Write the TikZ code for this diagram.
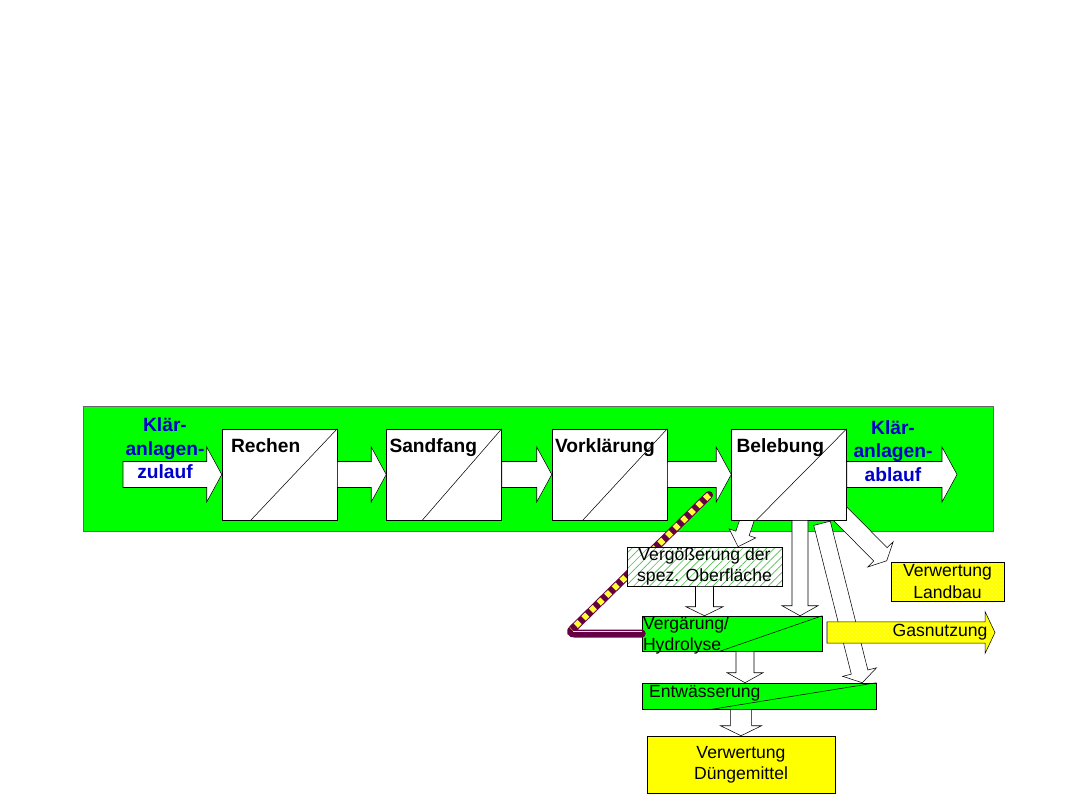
\documentclass[tikz,border=0pt]{standalone}
\usepackage{fontspec}
\setmainfont{Liberation Sans}
\usetikzlibrary{calc}
\usetikzlibrary{patterns}
\usetikzlibrary{patterns.meta}
\pgfdeclarelayer{back}
\pgfdeclarelayer{under}
\pgfsetlayers{back,under,main}
\definecolor{lime}{RGB}{0,255,0}
\definecolor{darkblue}{RGB}{0,0,204}
\definecolor{pipepurple}{RGB}{102,0,68}
\definecolor{pipeyellow}{RGB}{255,255,51}
\definecolor{signyellow}{RGB}{255,255,0}
\definecolor{hatchgreen}{RGB}{80,190,80}
\newcommand{\fatarrow}[6][fatline]{%
	\coordinate (fa) at ($(#3)!#6!(#2)$);
	\draw[#1] ($(#2)!#4!90:(#3)$) -- ($(fa)!#4!-90:(#2)$) -- ($(fa)!#5!-90:(#2)$) -- (#3)
		-- ($(fa)!#5!90:(#2)$) -- ($(fa)!#4!90:(#2)$) -- ($(#2)!#4!-90:(#3)$) -- cycle;}

\begin{document}
\begin{tikzpicture}[x=0.75pt, y=-0.75pt, line width=0.7pt,
	frame/.style={draw=black!60, fill=lime, minimum width=682.5pt, minimum height=93.75pt, inner sep=0},
	stepbox/.style={draw, fill=white, minimum width=86.25pt, minimum height=68.25pt, inner sep=0},
	steplabel/.style={anchor=base west, inner sep=0, font=\fontsize{14.4}{17.6}\selectfont\bfseries},
	flowlabel/.style={align=center, inner sep=0, text=darkblue, font=\fontsize{14.4}{17.6}\selectfont\bfseries},
	greenbox/.style={draw, fill=lime, inner sep=0},
	hatchbox/.style={draw, preaction={fill=white}, pattern={Lines[angle=45, distance=4.2pt, line width=0.5pt]}, pattern color=hatchgreen, inner sep=0},
	yellowbox/.style={draw, fill=signyellow, inner sep=0},
	dotbox/.style={draw, preaction={fill=signyellow}, pattern=dots, pattern color=yellow!30!white, inner sep=0},
	lowlabel/.style={align=center, inner sep=0, font=\fontsize{13.2}{15.8}\selectfont},
	fatline/.style={draw, fill=white},
	gasline/.style={draw, preaction={fill=signyellow}, pattern=dots, pattern color=yellow!30!white}]
		\path[use as bounding box] (0,0) rectangle (1080,800);
		\begin{pgfonlayer}{back}
			\node[frame] (frame) at (538,468.5) {};
		\end{pgfonlayer}
		\node[stepbox] (rechen) at (279.5,474.5) {};
		\node[stepbox] (sandfang) at (444,474.5) {};
		\node[stepbox] (vorkl) at (609.5,474.5) {};
		\node[stepbox] (beleb) at (789,474.5) {};
		\draw ($(rechen.south west)+(29,0)$) -- (rechen.north east);
		\draw ($(sandfang.south west)+(36,0)$) -- (sandfang.north east);
		\draw ($(vorkl.south west)+(31,0)$) -- (vorkl.north east);
		\draw ($(beleb.south west)+(25,0)$) -- (beleb.north east);
		\coordinate (zulauf) at (123,474.5);
		\coordinate (ablauf) at (957,474.5);
		\fatarrow{zulauf}{rechen.west}{9.75pt}{20.6pt}{11.25pt}
		\fatarrow{rechen.east}{sandfang.west}{9.75pt}{20.6pt}{11.25pt}
		\fatarrow{sandfang.east}{vorkl.west}{9.75pt}{20.6pt}{11.25pt}
		\fatarrow{vorkl.east}{beleb.west}{9.75pt}{20.6pt}{11.25pt}
		\fatarrow{beleb.east}{ablauf}{9.75pt}{20.6pt}{11.25pt}
		\node[steplabel] (rechent) at ($(rechen.north west)+(9,24)$) {Rechen};
		\node[steplabel] (sandfangt) at ($(sandfang.north west)+(3,24)$) {Sandfang};
		\node[steplabel] (vorklt) at ($(vorkl.north west)+(3,24)$) {Vorklärung};
		\node[steplabel] (belebt) at ($(beleb.north west)+(5,24)$) {Belebung};
		\node[flowlabel] (zulauft) at (165,448.5) {Klär-\\anlagen-\\zulauf};
		\node[flowlabel] (ablauft) at (893,451) {Klär-\\anlagen-\\ablauf};
		\node[greenbox, minimum width=135pt, minimum height=26.25pt] (hydro) at (732,633.5) {};
		\node[greenbox, minimum width=175.5pt, minimum height=19.5pt] (entw) at (759,696) {};
		\draw ($(hydro.south west)+(78,0)$) -- (hydro.north east);
		\draw ($(entw.south west)+(70,0)$) -- (entw.north east);
		\node[lowlabel, align=left, anchor=north west] (hydrot) at ($(hydro.north west)+(1,1)$) {Vergärung/\\Hydrolyse};
		\node[lowlabel, anchor=west] (entwt) at ($(entw.west)+(7,-3)$) {Entwässerung};
		\node[yellowbox, lowlabel, minimum width=141pt, minimum height=42.75pt] (duenger) at (741,764.5) {Verwertung\\Düngemittel};
		\node[dotbox, lowlabel, minimum width=84.75pt, minimum height=29.25pt] (landbau) at (947.5,581.5) {Verwertung\\Landbau};
		\coordinate (pipe) at (709,495);
		\coordinate (knee) at (568,633.5);
		\draw[line width=6pt, pipepurple, line cap=round, rounded corners=5pt] (pipe) -- (knee) -- (hydro.west);
		\draw[line width=4.5pt, pipeyellow, dash pattern=on 4pt off 4pt, shorten >=4pt] (pipe) -- (knee);
		\draw[line width=1pt, pipeyellow] ([yshift=1.5pt,xshift=4pt]knee) -- ([yshift=1.5pt]hydro.west);
		\node[hatchbox, lowlabel, minimum width=116.25pt, minimum height=29.25pt] (vergr) at (704.5,566.5) {Vergößerung der\\spez. Oberfläche};
		\begin{pgfonlayer}{under}
			\coordinate (f1) at ($(beleb.south east)+(-8,-8)$);
			\coordinate (f2) at ($(landbau.north west)+(-4,-1)$);
			\fatarrow{f1}{f2}{7.1pt}{13.5pt}{6.75pt}
			\coordinate (g1) at ($(beleb.south)+(-37,-15)$);
			\coordinate (g2) at ($(vergr.north)+(33.5,0)$);
			\fatarrow{g1}{g2}{5.25pt}{10.5pt}{10.5pt}
		\end{pgfonlayer}
		\coordinate (a2) at (vergr.south |- hydro.north);
		\fatarrow{vergr.south}{a2}{6.75pt}{13.9pt}{6.75pt}
		\coordinate (b1) at ($(beleb.south)+(11,0)$);
		\coordinate (b2) at (b1 |- hydro.north);
		\fatarrow{b1}{b2}{6pt}{13.5pt}{7.5pt}
		\coordinate (c1) at ($(hydro.south)+(13,0)$);
		\coordinate (c2) at (c1 |- entw.north);
		\fatarrow{c1}{c2}{6.75pt}{13.5pt}{7.5pt}
		\coordinate (d1) at (duenger.north |- entw.south);
		\fatarrow{d1}{duenger.north}{7.9pt}{15.4pt}{7.5pt}
		\coordinate (e1) at ($(beleb.south)+(33,3)$);
		\coordinate (e2) at ($(entw.north east)+(-14,0)$);
		\fatarrow{e1}{e2}{6.4pt}{13.1pt}{8.25pt}
		\coordinate (gasin) at (827,632.5);
		\coordinate (gasout) at (995,632.5);
		\fatarrow[gasline]{gasin}{gasout}{7.9pt}{15.75pt}{7.5pt}
		\node[lowlabel] (gas) at (940,632.5) {Gasnutzung};
	\end{tikzpicture}
\end{document}
